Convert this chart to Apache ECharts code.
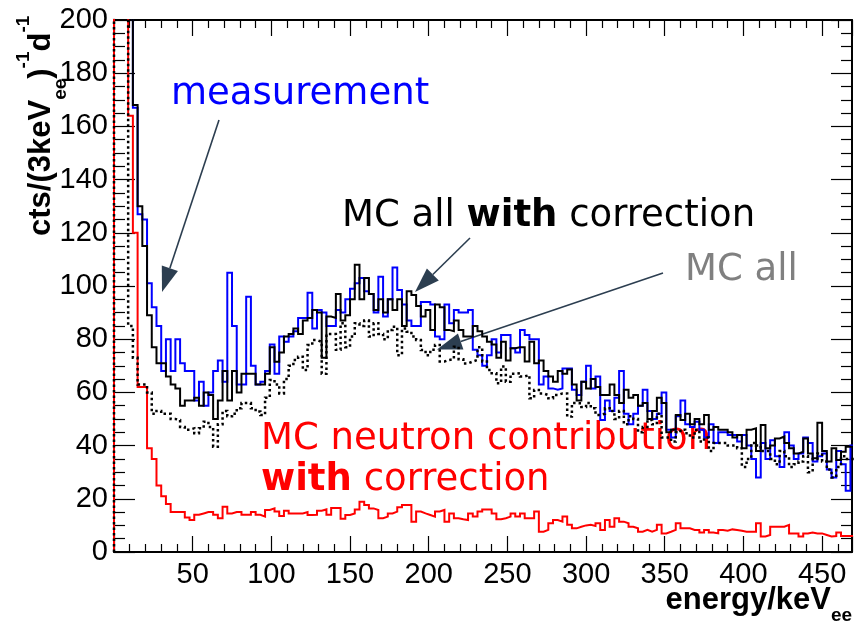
<!DOCTYPE html>
<html>
<head>
<meta charset="utf-8">
<script src="https://cdn.jsdelivr.net/npm/echarts@6/dist/echarts.min.js"></script>
<style>
html,body{margin:0;padding:0;background:#fff;}
#c{width:861px;height:625px;}
</style>
</head>
<body>
<div id="c"></div>
<script>
// ---------------- data (3 keV bins starting at 0 keV) ----------------
const BIN_WIDTH = 3;          // keV per bin
const X_MIN = 0, X_MAX = 469; // energy axis range (keV_ee)
const Y_MIN = 0, Y_MAX = 200; // counts axis range
const X_TICK_STEP = 50;
const Y_TICK_STEP = 20;

// measurement (blue)
const measurement = [
  300, 300, 300, 300, 167, 127, 125, 101, 92, 85,
  68, 80, 68, 80, 71, 68, 68, 57, 64, 55,
  60, 68, 72, 64, 105, 85, 63, 63, 96, 70,
  63, 64, 68, 78, 67, 81, 79, 81, 83, 88,
  88, 97.5, 84, 91, 90, 85, 85, 91, 90, 95,
  99, 101, 103, 98, 97, 90, 103.5, 88.5, 95, 107,
  98.5, 93, 87, 85, 85, 94, 94, 93, 81, 80,
  93, 86, 91, 90, 90, 91, 76, 74, 70, 74,
  80, 75, 81.6, 81.6, 76.6, 75, 83.5, 81.6, 80, 80,
  63, 66, 61.5, 61, 61.5, 69, 69, 61, 59, 64,
  70, 61.5, 66, 49.6, 57, 53, 58, 68, 52, 48,
  52, 55, 61, 53, 50, 52, 60, 46, 43, 51,
  57, 48, 47, 49, 46, 43, 48, 41, 45, 45,
  44, 44, 41.5, 44, 40, 35, 28, 41, 35, 42,
  36, 32, 45, 40, 35, 37, 43, 41, 34, 36,
  37, 31, 28, 38, 33, 23, 40
];

// MC all with correction (black solid)
const mcAllWithCorrection = [
  300, 300, 300, 300, 168, 130, 115, 89, 77, 71,
  71, 66, 63, 61.5, 55, 57, 57, 58, 55, 60,
  59, 50, 57, 68, 57, 68, 60, 67, 67, 67,
  63, 63, 67, 77, 71.5, 75, 81, 82, 84, 82,
  87, 88, 91, 90, 73, 88.5, 88, 97, 87, 89,
  95, 108, 95, 103, 97, 91, 95, 90, 95, 91,
  95, 85, 98, 96.6, 92.5, 88.5, 91, 83.5, 93, 92,
  83.5, 83, 87, 83.5, 81, 81, 85, 83, 81, 79,
  78, 73, 79, 72, 76.6, 77, 77, 71.6, 79, 71,
  72, 68, 66, 64, 68, 67, 68.6, 63, 57, 64,
  61.5, 65, 62, 59, 59, 63, 59, 56, 61, 58,
  59, 55, 56, 50, 53, 58, 56, 45, 46, 51.5,
  49.6, 52, 48, 50, 48, 51.5, 46, 47, 46, 46,
  45, 43, 44, 39, 46, 46.5, 38, 47.7, 39, 40,
  42.7, 43.4, 41, 39, 37, 37.7, 42.7, 37, 35.2, 48.6,
  38, 34, 39, 34.6, 37.7, 39.6, 39.6
];

// MC all (black dotted)
const mcAll = [
  300, 300, 300, 85, 73, 63, 63, 60, 52, 53,
  52, 52, 50, 49.6, 47, 46, 46.5, 44.6, 46.5, 49,
  47, 39.6, 48, 53, 51, 52, 54, 56, 56, 54,
  52.8, 51.5, 58, 64.7, 63, 59.6, 65, 70, 72.2, 73.4,
  68.4, 77.8, 79.7, 79, 67, 82, 82, 76, 86, 77,
  81, 86, 85, 87, 81, 86, 82, 80, 83.5, 84.7,
  74, 84, 82.8, 81, 79.7, 75.9, 74, 76, 77.8, 71.6,
  72.2, 72.5, 77.2, 72.5, 70.9, 71.6, 72.2, 77, 71.6, 68.4,
  67.2, 63.4, 69.7, 64, 67, 67.2, 66, 66.5, 57.8, 60.9,
  59.6, 59, 57.8, 59, 59.6, 59.6, 50.9, 56, 55.9, 54.5,
  56, 54, 51.5, 52, 54, 53, 50, 53, 48, 51,
  50, 45, 47, 49.6, 48, 52, 43, 43, 41.5, 45,
  46, 44.6, 43, 46, 41.5, 43, 38, 41, 41, 41,
  40, 40, 39, 32, 35, 41, 40, 38, 38, 35,
  33, 38, 36, 32, 33, 34, 36, 30, 35, 37,
  34, 31, 28, 32, 36, 35, 35
];

// MC neutron contribution with correction (red)
const mcNeutronWithCorrection = [
  400, 400, 400, 164, 120, 62, 62, 39, 35, 25,
  21, 18, 15, 15, 15, 13, 12, 14, 14.5, 15,
  15, 14, 12.7, 17, 14.5, 15, 15, 14, 14, 15,
  14, 13.3, 15.8, 16.4, 15.2, 13.5, 15.5, 14.5, 14.5, 14.5,
  15, 13.9, 14, 15.5, 16, 14, 16.5, 16.5, 12.5, 13.9,
  14.5, 16, 18.9, 17.7, 16.4, 15.8, 12.7, 13.3, 14.5, 15.2,
  16.8, 17.7, 17.7, 11.4, 15.2, 14.5, 13.9, 13.3, 15.2, 15.8,
  11.4, 14.5, 12.7, 12.3, 12, 14.5, 13.3, 15.2, 16, 16,
  14.5, 12.3, 12.7, 13.3, 14.5, 13.3, 14.5, 12.7, 12.7, 15.2,
  7.6, 8.3, 10.8, 12, 11.4, 13.3, 10.2, 8.9, 9.5, 10,
  10.2, 9.8, 10.8, 8.3, 12, 9.5, 12.7, 11.4, 10.8, 9.5,
  8.9, 7.6, 8.3, 7.6, 8.3, 10.2, 7, 7.6, 8.3, 10.8,
  8.9, 8.9, 8.3, 8.3, 7.3, 8.3, 7.3, 7, 8.3, 8,
  8.5, 8.3, 8, 7.6, 7.6, 7.6, 10.8, 5.8, 6.4, 9.5,
  9.5, 9.5, 10.2, 7, 7, 5.8, 7, 7.3, 7, 7,
  6.4, 5.8, 6, 7.3, 6, 6, 6
];

// ---------------- helpers ----------------
// histogram outline: starts at (0,0), one point per bin low edge, closing point at the last upper edge
function histSteps(values) {
  const pts = [[0, 0]];
  values.forEach((v, i) => pts.push([i * BIN_WIDTH, v]));
  pts.push([values.length * BIN_WIDTH, values[values.length - 1]]);
  return pts;
}
function histSeries(name, values, color, lineType, width) {
  return {
    name: name, type: 'line', step: 'end', data: histSteps(values),
    symbol: 'none', showSymbol: false, clip: true, silent: true,
    lineStyle: { color: color, width: width, type: lineType, cap: 'butt', join: 'miter' },
    emphasis: { disabled: true }
  };
}
const mctx = document.createElement('canvas').getContext('2d');
function textWidth(str, font) { mctx.font = font; return mctx.measureText(str).width; }
const K_MID = 0.35; // em-box middle above baseline
// lay out a run of text pieces along a baseline
function textRun(x, baseline, parts, color) {
  const els = [];
  let cx = x;
  parts.forEach(p => {
    const size = p.size;
    const font = (p.bold ? 'bold ' : '') + size + 'px ' + p.family;
    els.push({
      type: 'text', x: cx, y: baseline + (p.dy || 0) - K_MID * size, silent: true,
      style: { text: p.t, font: font, fill: p.color || color,
               textAlign: 'left', textVerticalAlign: 'middle', align: 'left', verticalAlign: 'middle' }
    });
    cx += textWidth(p.t, font);
  });
  return { els: els, width: cx - x };
}
function arrow(x1, y1, x2, y2, color) {
  const dx = x2 - x1, dy = y2 - y1, len = Math.hypot(dx, dy);
  const ux = dx / len, uy = dy / len, nx = -uy, ny = ux;
  const L = 25, W = 8.5;
  const bx = x2 - ux * L, by = y2 - uy * L;
  return [
    { type: 'line', silent: true, shape: { x1: x1, y1: y1, x2: bx, y2: by },
      style: { stroke: color, lineWidth: 1.6 } },
    { type: 'polygon', silent: true,
      shape: { points: [[x2, y2], [bx + nx * W, by + ny * W], [bx - nx * W, by - ny * W]] },
      style: { fill: color } }
  ];
}

// ---------------- chart ----------------
const chart = echarts.init(document.getElementById('c'), null, { renderer: 'canvas' });
const AX = { color: '#000', width: 2 };
const TICK = { color: '#000', width: 1.2 };
const LABEL_FONT = 'Liberation Sans';
const ANN = 'DejaVu Sans';

function xAxisDef(pos, labels) {
  return {
    type: 'value', min: X_MIN, max: X_MAX, interval: X_TICK_STEP, position: pos,
    axisLine: { show: true, onZero: false, lineStyle: AX },
    axisTick: { show: true, inside: true, length: 16, lineStyle: TICK },
    minorTick: { show: true, splitNumber: 5, length: 8, lineStyle: TICK },
    axisLabel: { show: labels, color: '#000', fontSize: 29, fontFamily: LABEL_FONT, margin: 8,
                 showMinLabel: false, showMaxLabel: false },
    splitLine: { show: false }, minorSplitLine: { show: false }
  };
}
function yAxisDef(pos, labels) {
  return {
    type: 'value', min: Y_MIN, max: Y_MAX, interval: Y_TICK_STEP, position: pos,
    axisLine: { show: true, onZero: false, lineStyle: AX },
    axisTick: { show: true, inside: true, length: 21, lineStyle: TICK },
    minorTick: { show: true, splitNumber: 4, length: 11, lineStyle: TICK },
    axisLabel: { show: labels, color: '#000', fontSize: 29, fontFamily: LABEL_FONT, margin: 6 },
    splitLine: { show: false }, minorSplitLine: { show: false }
  };
}

const graphics = [];
// annotations
const ARROW_COLOR = '#2c3e50';
graphics.push(...arrow(219, 120, 162, 292, ARROW_COLOR));
graphics.push(...arrow(470, 238, 415, 292, ARROW_COLOR));
graphics.push(...arrow(663, 273, 437, 349.5, ARROW_COLOR));

graphics.push(...textRun(171, 107, [{ t: 'measurement', size: 37, family: ANN }], '#0000ff').els);
graphics.push(...textRun(342, 229, [
  { t: 'MC all ', size: 37, family: ANN },
  { t: 'with', size: 37, family: ANN, bold: true },
  { t: ' correction', size: 37, family: ANN }], '#000').els);
graphics.push(...textRun(685, 283, [{ t: 'MC all', size: 37, family: ANN }], '#808080').els);
graphics.push(...textRun(261, 452, [{ t: 'MC neutron contribution', size: 37, family: ANN }], '#ff0000').els);
graphics.push(...textRun(261, 493, [
  { t: 'with', size: 37, family: ANN, bold: true },
  { t: ' correction', size: 37, family: ANN }], '#ff0000').els);

// x axis title: energy/keV_ee
const xMainFont = 'bold 31px "' + LABEL_FONT + '"';
const xMainW = textWidth('energy/keV', xMainFont);
graphics.push(...textRun(831 - xMainW, 611, [
  { t: 'energy/keV', size: 31, family: '"' + LABEL_FONT + '"', bold: true },
  { t: 'ee', size: 19, family: '"' + LABEL_FONT + '"', bold: true, dy: 11 }], '#000').els);

// y axis title: cts/(3keV_ee)^-1 d^-1  (rotated, reading upward)
const yRun = textRun(0, 0, [
  { t: 'cts/(3keV', size: 31, family: '"' + LABEL_FONT + '"', bold: true },
  { t: 'ee', size: 19, family: '"' + LABEL_FONT + '"', bold: true, dy: 15 },
  { t: ')', size: 31, family: '"' + LABEL_FONT + '"', bold: true },
  { t: '-1', size: 19, family: '"' + LABEL_FONT + '"', bold: true, dy: -22 },
  { t: 'd', size: 31, family: '"' + LABEL_FONT + '"', bold: true },
  { t: '-1', size: 19, family: '"' + LABEL_FONT + '"', bold: true, dy: -22 }], '#000');
graphics.push({ type: 'group', x: 52, y: 236, rotation: Math.PI / 2, silent: true, children: yRun.els });

chart.setOption({
  backgroundColor: '#ffffff',
  animation: false,
  grid: { left: 114, right: 9, top: 20, bottom: 73, containLabel: false, outerBoundsMode: 'none' },
  xAxis: [xAxisDef('bottom', true), xAxisDef('top', false)],
  yAxis: [yAxisDef('left', true), yAxisDef('right', false)],
  tooltip: { show: false },
  series: [
    histSeries('measurement', measurement, '#0000ff', 'solid', 2),
    histSeries('MC all with correction', mcAllWithCorrection, '#000000', 'solid', 2),
    histSeries('MC neutron contribution with correction', mcNeutronWithCorrection, '#ff0000', 'solid', 2),
    histSeries('MC all', mcAll, '#000000', [2.5, 3], 2.5)
  ],
  graphic: { elements: graphics }
});
</script>
</body>
</html>
